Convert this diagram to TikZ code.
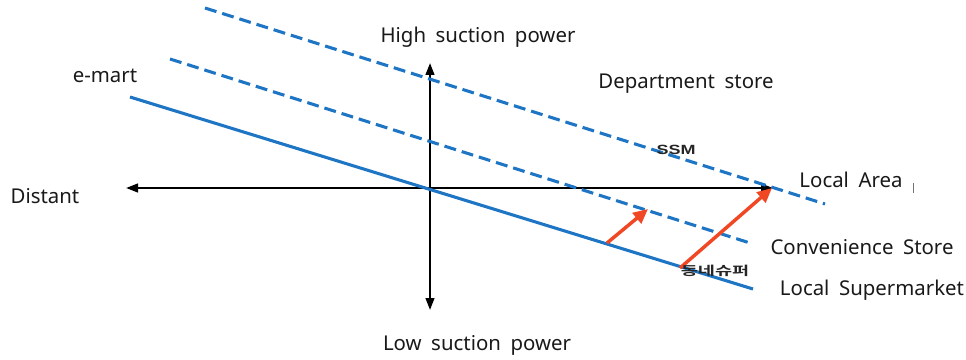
\documentclass[tikz,border=0pt]{standalone}
\usepackage{fontspec}
\setmainfont{Noto Sans}[WordSpace=1.8]
\newfontfamily\krfont{Noto Sans CJK KR}[BoldFont={* Bold}]
\newfontfamily\ssmfont{Liberation Sans}
\usetikzlibrary{arrows.meta}
\definecolor{lineblue}{RGB}{30,117,196}
\definecolor{arrred}{RGB}{240,72,36}
\tikzset{
  axis/.style={line width=1.6pt, black, {Triangle[length=9pt,width=6.5pt]}-{Triangle[length=9pt,width=6.5pt]}},
  solidblue/.style={line width=2.3pt, lineblue},
  dashblue/.style={line width=2.3pt, lineblue, dash pattern=on 9pt off 4.5pt},
  redarrow/.style={line width=2.6pt, arrred, -{Triangle[length=11pt,width=10pt]}},
  lbl/.style={font=\fontsize{15.3}{17}\selectfont, inner sep=0pt, text=black!90},
}
\begin{document}
\begin{tikzpicture}[x=0.75pt,y=-0.75pt]
\useasboundingbox (0,0) rectangle (966,360);
% axes
\coordinate (axL) at (126,188);
\coordinate (axR) at (773,188);
\coordinate (axT) at (430,63);
\coordinate (axB) at (430,310);
\draw[axis] (axL) -- (axR);
\draw[axis] (axT) -- (axB);
% blue lines
\coordinate (s1) at (130,97);   \coordinate (s2) at (753,289);
\coordinate (m1) at (170,59);   \coordinate (m2) at (750,243);
\coordinate (t1) at (205,8);    \coordinate (t2) at (825,204);
\draw[solidblue] (s1) -- (s2);
\draw[dashblue] (m1) -- (m2);
\draw[dashblue] (t1) -- (t2);
% red arrows
\coordinate (r1a) at (607,243); \coordinate (r1b) at (648,209);
\coordinate (r2a) at (680,268); \coordinate (r2b) at (772,188);
\draw[redarrow] (r1a) -- (r1b);
\draw[redarrow] (r2a) -- (r2b);
% small tick
\coordinate (k1) at (913,183); \coordinate (k2) at (913,193);
\draw[black!55, line width=0.6pt] (k1) -- (k2);
% labels
\node[lbl] (high) at (478,37) {High suction power};
\node[lbl] (low) at (477,345) {Low suction power};
\node[lbl] (emart) at (105,76) {e-mart};
\node[lbl] (dept) at (686,84) {Department store};
\node[lbl] (dist) at (45,196) {Distant};
\node[lbl] (local) at (851,180) {Local Area};
\node[lbl] (conv) at (862,247) {Convenience Store};
\node[lbl] (super) at (872,290) {Local Supermarket};
\node[inner sep=0pt, font=\ssmfont\bfseries\fontsize{10}{12}\selectfont, text=black!85, xscale=1.35] (ssm) at (676,150) {SSM};
\node[inner sep=0pt, font=\krfont\bfseries\fontsize{9.3}{11}\selectfont, text=black!85, xscale=1.5] (kr) at (715,271) {동네슈퍼};
\end{tikzpicture}
\end{document}
